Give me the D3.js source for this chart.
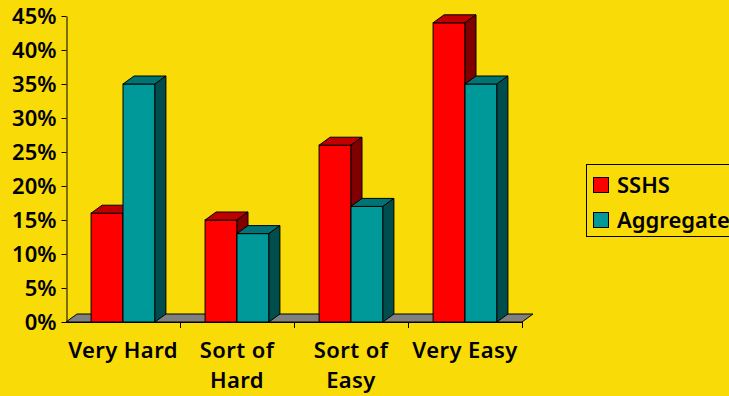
<!DOCTYPE html>
<html><head><meta charset="utf-8">
<script src="https://cdn.jsdelivr.net/npm/d3@7"></script>
<style>
html,body{margin:0;padding:0;background:#F9DB08;}
svg{display:block;}
text{font-family:"Noto Sans",sans-serif;font-weight:600;fill:#000;}
</style></head>
<body>
<script>
const categories = ["Very Hard", "Sort of Hard", "Sort of Easy", "Very Easy"];
const categoryLines = [["Very Hard"], ["Sort of", "Hard"], ["Sort of", "Easy"], ["Very Easy"]];
const series = ["SSHS", "Aggregate"];
const sshsValues = [0.16, 0.15, 0.26, 0.44];
const aggregateValues = [0.35, 0.13, 0.17, 0.35];
const yTickValues = [0, 0.05, 0.10, 0.15, 0.20, 0.25, 0.30, 0.35, 0.40, 0.45];

const W = 729, H = 396;
const colors = {
  SSHS: {front: "#FF0000", top: "#C00000", side: "#800000"},
  Aggregate: {front: "#009999", top: "#007474", side: "#004D4D"}
};
const dx = 11, dy = 8;
const fontSize = 22;

const svg = d3.select("body").append("svg").attr("width", W).attr("height", H);
svg.append("rect").attr("width", W).attr("height", H).attr("fill", "#F9DB08");

const x0 = d3.scaleBand().domain(categories).range([66, 522]).padding(0);
const x1 = d3.scaleBand().domain(series).range([x0.bandwidth() * 0.22, x0.bandwidth() * 0.78]).padding(0);
const y = d3.scaleLinear().domain([0, 0.45]).range([322, 16]);
const y0 = y(0);

const valuesBySeries = {SSHS: sshsValues, Aggregate: aggregateValues};

// floor
const fx0 = x0.range()[0], fx1 = x0.range()[1];
svg.append("polygon")
  .attr("points", [[fx0, y0], [fx0 + dx, y0 - dy], [fx1 + dx, y0 - dy], [fx1, y0]].map(p => p.join(",")).join(" "))
  .attr("fill", "#808080").attr("stroke", "#000").attr("stroke-width", 1).attr("stroke-linejoin", "round");

// bars
const barData = [];
categories.forEach((c, i) => {
  series.forEach(s => barData.push({cat: c, s: s, v: valuesBySeries[s][i]}));
});
const bw = x1.bandwidth();
const g = svg.append("g");
barData.forEach(d => {
  const x = x0(d.cat) + x1(d.s);
  const t = y(d.v);
  const col = colors[d.s];
  g.append("rect").attr("x", x).attr("y", t).attr("width", bw).attr("height", y0 - t)
    .attr("fill", col.front).attr("stroke", "#000").attr("stroke-width", 1);
  g.append("polygon")
    .attr("points", [[x, t], [x + dx, t - dy], [x + bw + dx, t - dy], [x + bw, t]].map(p => p.join(",")).join(" "))
    .attr("fill", col.top).attr("stroke", "#000").attr("stroke-width", 1).attr("stroke-linejoin", "round");
  g.append("polygon")
    .attr("points", [[x + bw, t], [x + bw + dx, t - dy], [x + bw + dx, y0 - dy], [x + bw, y0]].map(p => p.join(",")).join(" "))
    .attr("fill", col.side).attr("stroke", "#000").attr("stroke-width", 1).attr("stroke-linejoin", "round");
});

// y axis
const yAxis = d3.axisLeft(y).tickValues(yTickValues).tickFormat(d3.format(".0%")).tickSize(5).tickSizeOuter(0).tickPadding(5);
const ya = svg.append("g").attr("transform", "translate(66.5,0)").call(yAxis);
ya.selectAll("path,line").attr("stroke", "#000");
ya.selectAll("text").style("font-family", "'Noto Sans',sans-serif").style("font-weight", "600")
  .style("font-size", fontSize + "px").attr("fill", "#000");

// x axis line + ticks
svg.append("line").attr("x1", fx0).attr("x2", fx1).attr("y1", y0 + 0.5).attr("y2", y0 + 0.5).attr("stroke", "#000");
categories.forEach(c => {
  const xb = Math.round(x0(c) + x0.bandwidth()) + 0.5;
  svg.append("line").attr("x1", xb).attr("x2", xb).attr("y1", y0).attr("y2", y0 + 6).attr("stroke", "#000");
});

// category labels
categories.forEach((c, i) => {
  const t = svg.append("text").attr("text-anchor", "middle")
    .attr("x", x0(c) + x0.bandwidth() / 2).attr("y", 358)
    .style("font-size", fontSize + "px").style("letter-spacing", "0.4px");
  categoryLines[i].forEach((line, k) => {
    t.append("tspan").attr("x", x0(c) + x0.bandwidth() / 2).attr("y", 358 + k * 30).text(line);
  });
});

// legend
const lg = svg.append("g");
lg.append("rect").attr("x", 586.5).attr("y", 164.5).attr("width", 160).attr("height", 72)
  .attr("fill", "none").attr("stroke", "#000").attr("stroke-width", 1);
series.forEach((s, k) => {
  const yy = 177 + k * 35;
  lg.append("rect").attr("x", 593.5).attr("y", yy + 0.5).attr("width", 15).attr("height", 15)
    .attr("fill", colors[s].front).attr("stroke", "#000");
  lg.append("text").attr("x", 617).attr("y", yy + 15.5).style("font-size", fontSize + "px").text(s);
});
</script>
</body></html>
